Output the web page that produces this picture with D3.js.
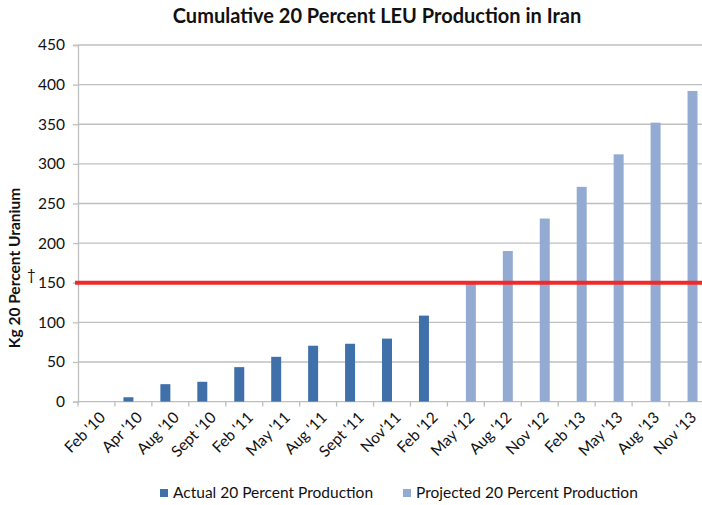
<!DOCTYPE html>
<html><head><meta charset="utf-8">
<script src="https://cdn.jsdelivr.net/npm/d3@7"></script>
<style>body{margin:0;background:#fff;} svg{display:block;font-family:Lato,"Open Sans",sans-serif;}</style>
</head><body>
<svg id="c" width="702" height="505"></svg>
<script>
const categories = ["Feb '10","Apr '10","Aug '10","Sept '10","Feb '11","May '11","Aug '11","Sept '11","Nov'11","Feb '12","May '12","Aug '12","Nov '12","Feb '13","May '13","Aug '13","Nov '13"];
const actualCats = ["Feb '10","Apr '10","Aug '10","Sept '10","Feb '11","May '11","Aug '11","Sept '11","Nov'11","Feb '12"];
const actualValues = [0, 5.5, 22, 25, 43.5, 56.5, 70.5, 73, 79.5, 108.5];
const projectedCats = ["May '12","Aug '12","Nov '12","Feb '13","May '13","Aug '13","Nov '13"];
const projectedValues = [149, 190, 231, 271, 312, 352, 392];
const yTicks = [0,50,100,150,200,250,300,350,400,450];
const thresholdValue = 150;
const seriesNames = ["Actual 20 Percent Production","Projected 20 Percent Production"];

const svg = d3.select("#c");
const L = 78, R = 706, T = 45, B = 401.6;
const FS = 15.5;
const x = d3.scaleBand().domain(categories).range([L, R]).padding(0);
const sub = d3.scaleBand().domain(["a","p"]).range([0, x.bandwidth()]).paddingInner(0).paddingOuter(0.85);
const y = d3.scaleLinear().domain([0, 450]).range([B, T]);
const colA = "#4070aa", colP = "#93aad2";

// gridlines
svg.append("g").selectAll("line").data(yTicks.filter(d=>d>0)).join("line")
  .attr("x1", L).attr("x2", 702).attr("y1", d=>y(d)).attr("y2", d=>y(d))
  .attr("stroke", "#bfbfbf").attr("stroke-width", 1.3);

// y axis
const ya = svg.append("g").attr("transform", `translate(${L},0)`)
  .call(d3.axisLeft(y).tickValues(yTicks).tickSize(5).tickPadding(8));
ya.select(".domain").attr("stroke", "#bfbfbf").attr("stroke-width", 1.3);
ya.selectAll(".tick line").attr("stroke", "#bfbfbf").attr("stroke-width", 1.3);
ya.selectAll("text").attr("font-size", FS).attr("fill", "#111").style("font-family","Lato, sans-serif");

// x axis
svg.append("line").attr("x1", L).attr("x2", 702).attr("y1", B).attr("y2", B)
  .attr("stroke", "#bfbfbf").attr("stroke-width", 1.3);
svg.append("g").selectAll("line").data(categories).join("line")
  .attr("x1", d=>x(d)).attr("x2", d=>x(d)).attr("y1", B).attr("y2", B+5)
  .attr("stroke", "#bfbfbf").attr("stroke-width", 1.3);
svg.append("g").selectAll("text").data(categories).join("text")
  .attr("transform", d=>`translate(${x(d)+x.bandwidth()/2+6},${B+13}) rotate(-45)`)
  .attr("text-anchor", "end").attr("dy", "0.35em")
  .attr("font-size", FS).attr("fill", "#111").text(d=>d);

// bars
svg.append("g").selectAll("rect").data(actualCats.map((c,i)=>({c, v: actualValues[i]}))).join("rect")
  .attr("x", d=>x(d.c)+sub("a")).attr("width", sub.bandwidth())
  .attr("y", d=>y(d.v)).attr("height", d=>B - y(d.v)).attr("fill", colA);
svg.append("g").selectAll("rect").data(projectedCats.map((c,i)=>({c, v: projectedValues[i]}))).join("rect")
  .attr("x", d=>x(d.c)+sub("p")).attr("width", sub.bandwidth())
  .attr("y", d=>y(d.v)).attr("height", d=>B - y(d.v)).attr("fill", colP);

// threshold line
svg.append("line").attr("x1", L-3).attr("x2", 702).attr("y1", y(thresholdValue)).attr("y2", y(thresholdValue))
  .attr("stroke", "#ee2a2a").attr("stroke-width", 4);
svg.append("text").attr("x", 27).attr("y", y(thresholdValue)-3).attr("font-size", 15).attr("fill","#111").text("†");

// title
svg.append("text").attr("x", 377).attr("y", 23).attr("text-anchor", "middle")
  .attr("font-size", 20).attr("font-weight", "bold").attr("fill", "#111")
  .text("Cumulative 20 Percent LEU Production in Iran");

// y title
svg.append("text").attr("transform", "translate(20,268) rotate(-90)").attr("text-anchor", "middle")
  .attr("font-size", 15.5).attr("font-weight", "bold").attr("fill", "#111")
  .text("Kg 20 Percent Uranium");

// legend
const leg = [{n: seriesNames[0], c: colA, x: 160}, {n: seriesNames[1], c: colP, x: 403}];
const lg = svg.append("g").selectAll("g").data(leg).join("g").attr("transform", d=>`translate(${d.x},489)`);
lg.append("rect").attr("width", 8).attr("height", 8).attr("fill", d=>d.c);
lg.append("text").attr("x", 13).attr("y", 4).attr("dy", "0.35em").attr("font-size", FS).attr("fill", "#111").text(d=>d.n);
</script>
</body></html>
